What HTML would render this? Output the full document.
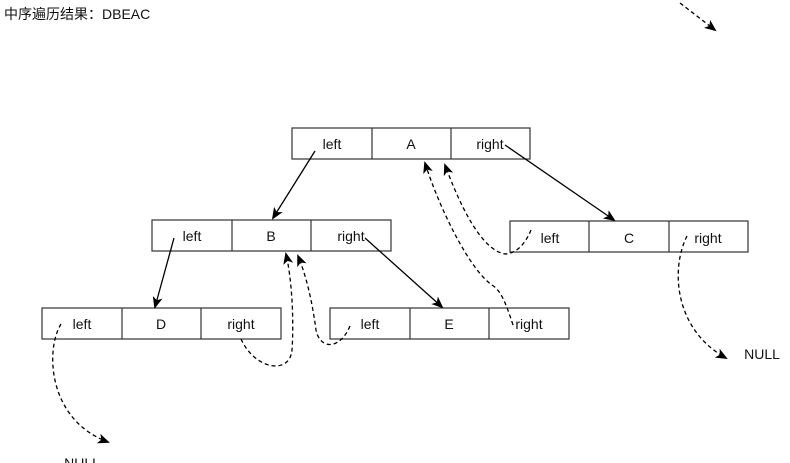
<!DOCTYPE html>
<html><head><meta charset="utf-8"><style>
body{margin:0;background:#fff;width:790px;height:463px;overflow:hidden;}
svg{display:block}
text{font-family:"Liberation Sans","Noto Sans CJK SC",sans-serif;font-size:14px;fill:#111}
</style></head><body>
<svg width="790" height="463" viewBox="0 0 790 463">
<defs>
<marker id="ah" markerWidth="12" markerHeight="10" refX="10" refY="5" orient="auto" markerUnits="userSpaceOnUse">
<path d="M0,0 L12,5 L0,10 L3,5 Z" fill="#000"/></marker>
</defs>
<text x="4" y="19" style="font-size:14px">中序遍历结果：DBEAC</text>
<g fill="#fff" stroke="#333" stroke-width="1.2">
<rect x="292" y="128" width="238" height="31"/><line x1="372" y1="128" x2="372" y2="159"/><line x1="451" y1="128" x2="451" y2="159"/>
<rect x="152" y="220" width="239" height="31"/><line x1="232" y1="220" x2="232" y2="251"/><line x1="311" y1="220" x2="311" y2="251"/>
<rect x="510" y="221" width="238" height="31"/><line x1="589" y1="221" x2="589" y2="252"/><line x1="669" y1="221" x2="669" y2="252"/>
<rect x="42" y="308" width="239" height="31"/><line x1="122" y1="308" x2="122" y2="339"/><line x1="201" y1="308" x2="201" y2="339"/>
<rect x="330" y="308" width="239" height="31"/><line x1="410" y1="308" x2="410" y2="339"/><line x1="489" y1="308" x2="489" y2="339"/>
</g>
<g text-anchor="middle">
<text x="332" y="149">left</text><text x="411" y="149">A</text><text x="490" y="149">right</text>
<text x="192" y="241">left</text><text x="271" y="241">B</text><text x="351" y="241">right</text>
<text x="550" y="243">left</text><text x="629" y="243">C</text><text x="708" y="243">right</text>
<text x="82" y="329">left</text><text x="161" y="329">D</text><text x="241" y="329">right</text>
<text x="370" y="329">left</text><text x="449" y="329">E</text><text x="529" y="329">right</text>
<text x="762" y="359">NULL</text>
<text x="82" y="468">NULL</text>
</g>
<g stroke="#000" stroke-width="1.3" fill="none" marker-end="url(#ah)">
<line x1="315" y1="151" x2="273" y2="218"/>
<line x1="505" y1="145" x2="614" y2="220"/>
<line x1="174" y1="238" x2="155" y2="307"/>
<line x1="365" y1="238" x2="442" y2="307"/>
</g>
<g stroke="#000" stroke-width="1.3" fill="none" stroke-dasharray="4,3" marker-end="url(#ah)">
<path d="M61,324 C45,350 48,420 108,442"/>
<path d="M241,339 C255,370 290,375 292,350 C294,320 292,280 286,254"/>
<path d="M350,326 C340,350 320,350 316,330 C312,300 306,275 298,256"/>
<path d="M513,325 C505,300 500,290 492,285 C470,270 440,210 425,163"/>
<path d="M531,230 C525,245 515,254 505,254 C480,250 458,200 445,165"/>
<path d="M687,236 C670,270 675,330 726,358"/>
<path d="M680,3 L715,30"/>
</g>
</svg>
</body></html>
